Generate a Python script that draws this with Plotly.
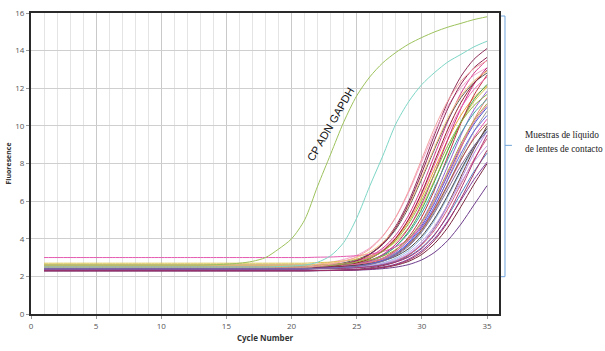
import plotly.graph_objects as go

cycles = list(range(1, 36))

x_tick_vals = [0, 5, 10, 15, 20, 25, 30, 35]
y_tick_vals = [0, 2, 4, 6, 8, 10, 12, 14, 16]

gapdh = [2.6, 2.6, 2.6, 2.6, 2.6, 2.6, 2.6, 2.6, 2.6, 2.6, 2.6, 2.6, 2.6, 2.62,
         2.65, 2.7, 2.8, 3.0, 3.45, 4.0, 5.0, 6.8, 8.5, 10.2, 11.6, 12.6, 13.35,
         13.9, 14.35, 14.7, 15.0, 15.25, 15.45, 15.65, 15.8]

control2 = [2.5, 2.5, 2.5, 2.5, 2.5, 2.5, 2.5, 2.5, 2.5, 2.5, 2.5, 2.5, 2.5, 2.5, 2.5,
            2.5, 2.5, 2.5, 2.52, 2.55, 2.6, 2.75, 3.1, 3.8, 5.1, 6.8, 8.4, 10.1, 11.3,
            12.2, 12.85, 13.4, 13.8, 14.2, 14.5]

samples = [
    [2.4, 2.4, 2.4, 2.4, 2.4, 2.4, 2.4, 2.4, 2.4, 2.4, 2.4, 2.4, 2.4, 2.4, 2.4, 2.4, 2.4, 2.4, 2.4, 2.4, 2.4,
     2.45, 2.52, 2.65, 2.85, 3.19, 3.76, 4.68, 6.01, 7.73, 9.58, 11.29, 12.63, 13.54, 14.11],
    [2.5, 2.5, 2.5, 2.5, 2.5, 2.5, 2.5, 2.5, 2.5, 2.5, 2.5, 2.5, 2.5, 2.5, 2.5, 2.5, 2.5, 2.5, 2.5, 2.5, 2.5,
     2.55, 2.6, 2.68, 2.82, 3.06, 3.5, 4.2, 5.27, 6.75, 8.5, 10.25, 11.73, 12.8, 13.5],
    [2.5, 2.5, 2.5, 2.5, 2.5, 2.5, 2.5, 2.5, 2.5, 2.5, 2.5, 2.5, 2.5, 2.5, 2.5, 2.5, 2.5, 2.5, 2.5, 2.5, 2.5,
     2.55, 2.6, 2.72, 2.9, 3.19, 3.7, 4.5, 5.68, 7.19, 8.81, 10.32, 11.5, 12.3, 12.81],
    [2.6, 2.6, 2.6, 2.6, 2.6, 2.6, 2.6, 2.6, 2.6, 2.6, 2.6, 2.6, 2.6, 2.6, 2.6, 2.6, 2.6, 2.6, 2.6, 2.6, 2.6,
     2.65, 2.75, 2.9, 3.12, 3.51, 4.16, 5.14, 6.49, 8.1, 9.71, 11.06, 12.04, 12.69, 13.08],
    [2.5, 2.5, 2.5, 2.5, 2.5, 2.5, 2.5, 2.5, 2.5, 2.5, 2.5, 2.5, 2.5, 2.5, 2.5, 2.5, 2.5, 2.5, 2.5, 2.5, 2.5,
     2.55, 2.59, 2.66, 2.78, 2.99, 3.37, 3.99, 4.93, 6.22, 7.75, 9.28, 10.57, 11.51, 12.13],
    [2.7, 2.7, 2.7, 2.7, 2.7, 2.7, 2.7, 2.7, 2.7, 2.7, 2.7, 2.7, 2.7, 2.7, 2.7, 2.7, 2.7, 2.7, 2.7, 2.7, 2.7,
     2.73, 2.76, 2.82, 2.91, 3.08, 3.36, 3.84, 4.61, 5.73, 7.17, 8.73, 10.17, 11.29, 12.06],
    [2.4, 2.4, 2.4, 2.4, 2.4, 2.4, 2.4, 2.4, 2.4, 2.4, 2.4, 2.4, 2.4, 2.4, 2.4, 2.4, 2.4, 2.4, 2.4, 2.4, 2.4,
     2.44, 2.47, 2.52, 2.62, 2.8, 3.09, 3.6, 4.4, 5.58, 7.09, 8.71, 10.22, 11.4, 12.2],
    [2.4, 2.4, 2.4, 2.4, 2.4, 2.4, 2.4, 2.4, 2.4, 2.4, 2.4, 2.4, 2.4, 2.4, 2.4, 2.4, 2.4, 2.4, 2.4, 2.4, 2.4,
     2.43, 2.45, 2.49, 2.55, 2.67, 2.87, 3.23, 3.82, 4.71, 5.94, 7.4, 8.86, 10.09, 10.98],
    [2.4, 2.4, 2.4, 2.4, 2.4, 2.4, 2.4, 2.4, 2.4, 2.4, 2.4, 2.4, 2.4, 2.4, 2.4, 2.4, 2.4, 2.4, 2.4, 2.4, 2.4,
     2.43, 2.45, 2.49, 2.57, 2.7, 2.92, 3.31, 3.96, 4.94, 6.29, 7.9, 9.51, 10.86, 11.84],
    [2.4, 2.4, 2.4, 2.4, 2.4, 2.4, 2.4, 2.4, 2.4, 2.4, 2.4, 2.4, 2.4, 2.4, 2.4, 2.4, 2.4, 2.4, 2.4, 2.4, 2.4,
     2.43, 2.46, 2.5, 2.58, 2.72, 2.96, 3.4, 4.1, 5.17, 6.65, 8.4, 10.15, 11.63, 12.7],
    [2.5, 2.5, 2.5, 2.5, 2.5, 2.5, 2.5, 2.5, 2.5, 2.5, 2.5, 2.5, 2.5, 2.5, 2.5, 2.5, 2.5, 2.5, 2.5, 2.5, 2.5,
     2.52, 2.54, 2.57, 2.62, 2.72, 2.9, 3.19, 3.7, 4.5, 5.68, 7.19, 8.81, 10.32, 11.5],
    [2.5, 2.5, 2.5, 2.5, 2.5, 2.5, 2.5, 2.5, 2.5, 2.5, 2.5, 2.5, 2.5, 2.5, 2.5, 2.5, 2.5, 2.5, 2.5, 2.5, 2.5,
     2.53, 2.56, 2.61, 2.7, 2.86, 3.13, 3.59, 4.32, 5.39, 6.76, 8.24, 9.61, 10.68, 11.41],
    [2.4, 2.4, 2.4, 2.4, 2.4, 2.4, 2.4, 2.4, 2.4, 2.4, 2.4, 2.4, 2.4, 2.4, 2.4, 2.4, 2.4, 2.4, 2.4, 2.4, 2.4,
     2.42, 2.43, 2.46, 2.5, 2.58, 2.72, 2.97, 3.38, 4.04, 5.0, 6.23, 7.57, 8.8, 9.76],
    [2.3, 2.3, 2.3, 2.3, 2.3, 2.3, 2.3, 2.3, 2.3, 2.3, 2.3, 2.3, 2.3, 2.3, 2.3, 2.3, 2.3, 2.3, 2.3, 2.3, 2.3,
     2.31, 2.32, 2.34, 2.38, 2.45, 2.57, 2.77, 3.13, 3.72, 4.61, 5.84, 7.3, 8.76, 9.99],
    [3.0, 3.0, 3.0, 3.0, 3.0, 3.0, 3.0, 3.0, 3.0, 3.0, 3.0, 3.0, 3.0, 3.0, 3.0, 3.0, 3.0, 3.0, 3.0, 3.0, 3.0,
     3.02, 3.03, 3.06, 3.1, 3.18, 3.32, 3.57, 3.98, 4.64, 5.6, 6.83, 8.17, 9.4, 10.36],
    [2.4, 2.4, 2.4, 2.4, 2.4, 2.4, 2.4, 2.4, 2.4, 2.4, 2.4, 2.4, 2.4, 2.4, 2.4, 2.4, 2.4, 2.4, 2.4, 2.4, 2.4,
     2.41, 2.42, 2.44, 2.48, 2.54, 2.66, 2.85, 3.19, 3.75, 4.59, 5.76, 7.15, 8.54, 9.71],
    [2.3, 2.3, 2.3, 2.3, 2.3, 2.3, 2.3, 2.3, 2.3, 2.3, 2.3, 2.3, 2.3, 2.3, 2.3, 2.3, 2.3, 2.3, 2.3, 2.3, 2.3,
     2.31, 2.32, 2.33, 2.35, 2.39, 2.46, 2.59, 2.8, 3.17, 3.76, 4.61, 5.71, 6.89, 7.99],
    [2.3, 2.3, 2.3, 2.3, 2.3, 2.3, 2.3, 2.3, 2.3, 2.3, 2.3, 2.3, 2.3, 2.3, 2.3, 2.3, 2.3, 2.3, 2.3, 2.3, 2.3,
     2.3, 2.31, 2.32, 2.33, 2.36, 2.41, 2.49, 2.63, 2.88, 3.29, 3.92, 4.78, 5.8, 6.82],
    [2.6, 2.6, 2.6, 2.6, 2.6, 2.6, 2.6, 2.6, 2.6, 2.6, 2.6, 2.6, 2.6, 2.6, 2.6, 2.6, 2.6, 2.6, 2.6, 2.6, 2.6,
     2.62, 2.63, 2.66, 2.71, 2.8, 2.96, 3.23, 3.69, 4.42, 5.49, 6.86, 8.34, 9.71, 10.78],
    [2.4, 2.4, 2.4, 2.4, 2.4, 2.4, 2.4, 2.4, 2.4, 2.4, 2.4, 2.4, 2.4, 2.4, 2.4, 2.4, 2.4, 2.4, 2.4, 2.4, 2.4,
     2.42, 2.44, 2.48, 2.54, 2.64, 2.82, 3.15, 3.68, 4.48, 5.59, 6.9, 8.21, 9.32, 10.12],
    [2.4, 2.4, 2.4, 2.4, 2.4, 2.4, 2.4, 2.4, 2.4, 2.4, 2.4, 2.4, 2.4, 2.4, 2.4, 2.4, 2.4, 2.4, 2.4, 2.4, 2.4,
     2.44, 2.47, 2.53, 2.64, 2.83, 3.16, 3.71, 4.58, 5.87, 7.51, 9.29, 10.93, 12.22, 13.09],
    [2.6, 2.6, 2.6, 2.6, 2.6, 2.6, 2.6, 2.6, 2.6, 2.6, 2.6, 2.6, 2.6, 2.6, 2.6, 2.6, 2.6, 2.6, 2.6, 2.6, 2.6,
     2.63, 2.65, 2.69, 2.75, 2.87, 3.07, 3.43, 4.02, 4.91, 6.14, 7.6, 9.06, 10.29, 11.18],
    [2.5, 2.5, 2.5, 2.5, 2.5, 2.5, 2.5, 2.5, 2.5, 2.5, 2.5, 2.5, 2.5, 2.5, 2.5, 2.5, 2.5, 2.5, 2.5, 2.5, 2.5,
     2.55, 2.59, 2.66, 2.8, 3.02, 3.41, 4.06, 5.04, 6.39, 8.0, 9.61, 10.96, 11.94, 12.59],
    [2.4, 2.4, 2.4, 2.4, 2.4, 2.4, 2.4, 2.4, 2.4, 2.4, 2.4, 2.4, 2.4, 2.4, 2.4, 2.4, 2.4, 2.4, 2.4, 2.4, 2.4,
     2.41, 2.42, 2.44, 2.47, 2.54, 2.64, 2.82, 3.15, 3.68, 4.48, 5.59, 6.9, 8.21, 9.32],
    [2.4, 2.4, 2.4, 2.4, 2.4, 2.4, 2.4, 2.4, 2.4, 2.4, 2.4, 2.4, 2.4, 2.4, 2.4, 2.4, 2.4, 2.4, 2.4, 2.4, 2.4,
     2.45, 2.49, 2.57, 2.71, 2.94, 3.35, 4.03, 5.06, 6.47, 8.15, 9.83, 11.24, 12.27, 12.95],
    [2.4, 2.4, 2.4, 2.4, 2.4, 2.4, 2.4, 2.4, 2.4, 2.4, 2.4, 2.4, 2.4, 2.4, 2.4, 2.4, 2.4, 2.4, 2.4, 2.4, 2.4,
     2.41, 2.43, 2.45, 2.49, 2.56, 2.69, 2.9, 3.27, 3.86, 4.71, 5.81, 6.99, 8.09, 8.94],
    [2.4, 2.4, 2.4, 2.4, 2.4, 2.4, 2.4, 2.4, 2.4, 2.4, 2.4, 2.4, 2.4, 2.4, 2.4, 2.4, 2.4, 2.4, 2.4, 2.4, 2.4,
     2.41, 2.42, 2.43, 2.46, 2.52, 2.62, 2.78, 3.06, 3.54, 4.25, 5.23, 6.4, 7.57, 8.55],
    [2.4, 2.4, 2.4, 2.4, 2.4, 2.4, 2.4, 2.4, 2.4, 2.4, 2.4, 2.4, 2.4, 2.4, 2.4, 2.4, 2.4, 2.4, 2.4, 2.4, 2.4,
     2.41, 2.42, 2.43, 2.46, 2.51, 2.6, 2.76, 3.03, 3.49, 4.22, 5.29, 6.66, 8.14, 9.51],
    [2.6, 2.6, 2.6, 2.6, 2.6, 2.6, 2.6, 2.6, 2.6, 2.6, 2.6, 2.6, 2.6, 2.6, 2.6, 2.6, 2.6, 2.6, 2.6, 2.6, 2.6,
     2.64, 2.7, 2.82, 3.0, 3.29, 3.8, 4.6, 5.78, 7.29, 8.91, 10.42, 11.6, 12.4, 12.91],
    [2.5, 2.5, 2.5, 2.5, 2.5, 2.5, 2.5, 2.5, 2.5, 2.5, 2.5, 2.5, 2.5, 2.5, 2.5, 2.5, 2.5, 2.5, 2.5, 2.5, 2.5,
     2.51, 2.53, 2.56, 2.6, 2.68, 2.82, 3.07, 3.48, 4.14, 5.1, 6.33, 7.67, 8.9, 9.86],
    [2.3, 2.3, 2.3, 2.3, 2.3, 2.3, 2.3, 2.3, 2.3, 2.3, 2.3, 2.3, 2.3, 2.3, 2.3, 2.3, 2.3, 2.3, 2.3, 2.3, 2.3,
     2.31, 2.32, 2.33, 2.36, 2.41, 2.5, 2.65, 2.92, 3.37, 4.03, 4.96, 6.05, 7.15, 8.07],
    [2.5, 2.5, 2.5, 2.5, 2.5, 2.5, 2.5, 2.5, 2.5, 2.5, 2.5, 2.5, 2.5, 2.5, 2.5, 2.5, 2.5, 2.5, 2.5, 2.5, 2.5,
     2.53, 2.55, 2.59, 2.65, 2.77, 2.97, 3.33, 3.92, 4.81, 6.04, 7.5, 8.96, 10.19, 11.08],
    [2.4, 2.4, 2.4, 2.4, 2.4, 2.4, 2.4, 2.4, 2.4, 2.4, 2.4, 2.4, 2.4, 2.4, 2.4, 2.4, 2.4, 2.4, 2.4, 2.4, 2.4,
     2.45, 2.52, 2.64, 2.83, 3.16, 3.71, 4.58, 5.87, 7.51, 9.29, 10.93, 12.22, 13.09, 13.64],
    [2.4, 2.4, 2.4, 2.4, 2.4, 2.4, 2.4, 2.4, 2.4, 2.4, 2.4, 2.4, 2.4, 2.4, 2.4, 2.4, 2.4, 2.4, 2.4, 2.4, 2.4,
     2.43, 2.45, 2.48, 2.54, 2.66, 2.85, 3.19, 3.75, 4.59, 5.76, 7.15, 8.54, 9.71, 10.55],
    [2.5, 2.5, 2.5, 2.5, 2.5, 2.5, 2.5, 2.5, 2.5, 2.5, 2.5, 2.5, 2.5, 2.5, 2.5, 2.5, 2.5, 2.5, 2.5, 2.5, 2.5,
     2.54, 2.58, 2.65, 2.77, 2.97, 3.33, 3.92, 4.81, 6.04, 7.5, 8.96, 10.19, 11.08, 11.67],
    [2.5, 2.5, 2.5, 2.5, 2.5, 2.5, 2.5, 2.5, 2.5, 2.5, 2.5, 2.5, 2.5, 2.5, 2.5, 2.5, 2.5, 2.5, 2.5, 2.5, 2.5,
     2.55, 2.65, 2.8, 3.04, 3.45, 4.13, 5.16, 6.57, 8.25, 9.93, 11.34, 12.37, 13.05, 13.46],
    [2.3, 2.3, 2.3, 2.3, 2.3, 2.3, 2.3, 2.3, 2.3, 2.3, 2.3, 2.3, 2.3, 2.3, 2.3, 2.3, 2.3, 2.3, 2.3, 2.3, 2.3,
     2.31, 2.32, 2.33, 2.35, 2.4, 2.48, 2.62, 2.87, 3.28, 3.94, 4.9, 6.13, 7.47, 8.7],
    [2.4, 2.4, 2.4, 2.4, 2.4, 2.4, 2.4, 2.4, 2.4, 2.4, 2.4, 2.4, 2.4, 2.4, 2.4, 2.4, 2.4, 2.4, 2.4, 2.4, 2.4,
     2.42, 2.44, 2.47, 2.53, 2.63, 2.8, 3.11, 3.61, 4.36, 5.41, 6.65, 7.89, 8.94, 9.69],
]

sample_colors = [
    "#8E2F5A", "#D6388E", "#595959", "#F2A0C8", "#F0A033", "#D8C24A", "#3FA348",
    "#4058D0", "#9060D0", "#C0303F", "#F08070", "#3FA3A3", "#92BCE8", "#6B3A3A",
    "#E458B0", "#B488E4", "#7A2840", "#6E3C8C", "#999999", "#A0623E", "#C0207E",
    "#A8A844", "#F068B4", "#D06080", "#951F2A", "#C4A6E4", "#5082C4", "#B03070",
    "#F8C27E", "#444444", "#8040A0", "#E070A0", "#8B2252", "#6464E0", "#92B444",
    "#F4A0A0", "#A03060", "#8070A0",
]

fig = go.Figure()

for vals, col in zip(samples, sample_colors):
    fig.add_trace(go.Scatter(x=cycles, y=vals, mode="lines",
                             line=dict(color=col, width=1, shape="spline", smoothing=0.8),
                             hoverinfo="skip"))

fig.add_trace(go.Scatter(x=cycles, y=control2, mode="lines",
                         line=dict(color="#7DD6C6", width=1, shape="spline", smoothing=0.8),
                         hoverinfo="skip"))
fig.add_trace(go.Scatter(x=cycles, y=gapdh, mode="lines",
                         line=dict(color="#9DC25C", width=1, shape="spline", smoothing=0.8),
                         hoverinfo="skip"))

tick_font = dict(family="Open Sans, Arial, sans-serif", size=8, color="#555555")

fig.update_layout(
    width=605, height=351,
    margin=dict(l=29, r=106, t=7, b=37),
    plot_bgcolor="white", paper_bgcolor="white",
    showlegend=False,
)

fig.update_xaxes(
    range=[0, 35.92], tickmode="array", tickvals=x_tick_vals,
    showgrid=True, gridcolor="#C9C9C9", gridwidth=1,
    minor=dict(dtick=1, tick0=0, showgrid=True, gridcolor="#E4E4E4", gridwidth=1),
    showline=True, linecolor="#2A2A2A", linewidth=2, mirror=True,
    ticks="outside", ticklen=3, tickcolor="#999999",
    tickfont=tick_font, zeroline=False,
    title=dict(text="<b>Cycle Number</b>",
               font=dict(family="Open Sans, Arial, sans-serif", size=8, color="#333333"),
               standoff=6),
)
fig.update_yaxes(
    range=[0, 16], tickmode="array", tickvals=y_tick_vals,
    showgrid=True, gridcolor="#CFCFCF", gridwidth=1,
    showline=True, linecolor="#2A2A2A", linewidth=2, mirror=True,
    ticks="outside", ticklen=3, tickcolor="#999999",
    tickfont=tick_font, zeroline=False,
    title=dict(text="<b>Fluoresence</b>",
               font=dict(family="Open Sans, Arial, sans-serif", size=7, color="#333333"),
               standoff=3),
)

bracket_color = "#6FA3DA"
# bracket to the right of the plot (paper coordinates)
fig.add_shape(type="line", xref="paper", yref="paper", x0=1.0128, x1=1.0128,
              y0=0.124, y1=0.990, line=dict(color=bracket_color, width=1))
fig.add_shape(type="line", xref="paper", yref="paper", x0=1.0043, x1=1.0128,
              y0=0.990, y1=0.990, line=dict(color=bracket_color, width=1))
fig.add_shape(type="line", xref="paper", yref="paper", x0=1.0043, x1=1.0128,
              y0=0.124, y1=0.124, line=dict(color=bracket_color, width=1))
fig.add_shape(type="line", xref="paper", yref="paper", x0=1.0128, x1=1.0277,
              y0=0.5603, y1=0.5603, line=dict(color=bracket_color, width=1))

serif = dict(family="Liberation Serif, Times New Roman, serif", size=9.3, color="#222222")
fig.add_annotation(text="Muestras de líquido", xref="paper", yref="paper",
                   x=1.051, y=0.596, xanchor="left", yanchor="middle",
                   showarrow=False, font=serif)
fig.add_annotation(text="de lentes de contacto", xref="paper", yref="paper",
                   x=1.051, y=0.547, xanchor="left", yanchor="middle",
                   showarrow=False, font=serif)

fig.add_annotation(text="CP ADN GAPDH", x=23.0, y=10.1, xref="x", yref="y",
                   showarrow=False, textangle=-60,
                   font=dict(family="Liberation Sans, Arial, sans-serif", size=11, color="#111111"))

fig.write_html("out.html")
